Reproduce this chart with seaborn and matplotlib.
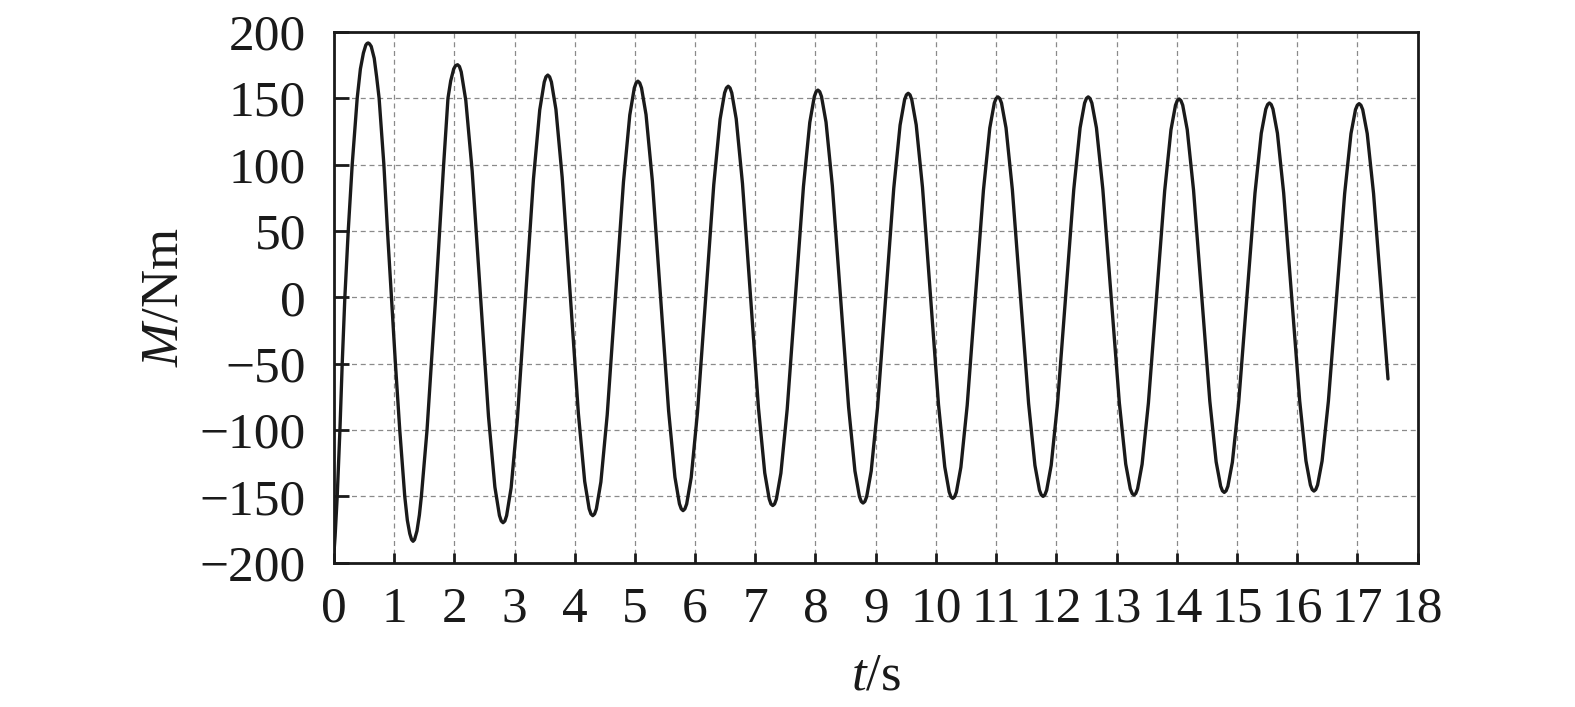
import matplotlib
matplotlib.use("Agg")
import matplotlib.pyplot as plt
import seaborn as sns
import pandas as pd

# time (s) and moment (Nm)
t_s = [
    0.000, 0.020, 0.055, 0.100, 0.138, 0.182, 0.238, 0.304, 0.387, 0.440, 0.490, 0.530, 0.550, 0.569,
    0.590, 0.620, 0.670, 0.710, 0.751, 0.830, 0.890, 0.956, 1.022, 1.094, 1.177, 1.220, 1.260, 1.290, 1.315,
    1.340, 1.380, 1.420, 1.453, 1.547, 1.619, 1.690, 1.757, 1.823, 1.895, 1.940, 1.990, 2.020, 2.055,
    2.085, 2.115, 2.191, 2.297, 2.433, 2.568, 2.674, 2.750, 2.780, 2.810,
    2.840, 2.869, 2.944, 3.048, 3.182, 3.315, 3.419, 3.494, 3.523, 3.553,
    3.583, 3.613, 3.688, 3.792, 3.927, 4.061, 4.166, 4.240, 4.270, 4.300,
    4.330, 4.360, 4.435, 4.540, 4.675, 4.810, 4.915, 4.990, 5.020, 5.050,
    5.080, 5.110, 5.185, 5.290, 5.425, 5.560, 5.665, 5.740, 5.770, 5.800,
    5.830, 5.860, 5.935, 6.040, 6.175, 6.310, 6.415, 6.490, 6.520, 6.550,
    6.580, 6.609, 6.683, 6.787, 6.920, 7.053, 7.157, 7.231, 7.260, 7.290,
    7.320, 7.350, 7.425, 7.530, 7.665, 7.800, 7.905, 7.980, 8.010, 8.040,
    8.070, 8.100, 8.175, 8.280, 8.415, 8.550, 8.655, 8.730, 8.760, 8.790,
    8.820, 8.850, 8.925, 9.030, 9.165, 9.300, 9.405, 9.480, 9.510, 9.540,
    9.570, 9.599, 9.673, 9.777, 9.910, 10.043, 10.147, 10.221, 10.250, 10.280,
    10.310, 10.340, 10.415, 10.520, 10.655, 10.790, 10.895, 10.970, 11.000, 11.030,
    11.060, 11.090, 11.165, 11.270, 11.405, 11.540, 11.645, 11.720, 11.750, 11.780,
    11.810, 11.840, 11.915, 12.020, 12.155, 12.290, 12.395, 12.470, 12.500, 12.530,
    12.560, 12.591, 12.667, 12.773, 12.910, 13.047, 13.153, 13.229, 13.260, 13.290,
    13.320, 13.350, 13.425, 13.530, 13.665, 13.800, 13.905, 13.980, 14.010, 14.040,
    14.070, 14.100, 14.175, 14.280, 14.415, 14.550, 14.655, 14.730, 14.760, 14.790,
    14.820, 14.850, 14.925, 15.030, 15.165, 15.300, 15.405, 15.480, 15.510, 15.540,
    15.570, 15.599, 15.673, 15.777, 15.910, 16.043, 16.147, 16.221, 16.250, 16.280,
    16.310, 16.340, 16.415, 16.520, 16.655, 16.790, 16.895, 16.970, 17.000, 17.030,
    17.060, 17.090, 17.165, 17.270, 17.405, 17.510,
]
moment_nm = [
    -193.0, -180.0, -150.0, -100.0, -50.0, 0.0, 50.0, 100.0, 150.0, 172.0, 184.0, 190.0, 191.2, 191.6,
    191.0, 189.0, 180.0, 166.0, 150.0, 100.0, 50.0, 0.0, -50.0, -100.0, -150.0, -168.0, -178.0, -182.5, -183.8,
    -182.5, -176.0, -164.0, -150.0, -100.0, -50.0, 0.0, 50.0, 100.0, 150.0, 163.0, 172.0, 174.5, 175.2,
    173.9, 169.8, 148.3, 95.1, 2.7, -89.7, -142.9, -164.4, -168.5, -169.8,
    -168.5, -164.5, -143.5, -91.5, -1.2, 89.1, 141.1, 162.1, 166.1, 167.4,
    166.1, 162.2, 141.6, 90.4, 1.5, -87.5, -138.7, -159.3, -163.2, -164.5,
    -163.2, -159.4, -139.1, -88.6, -0.9, 86.8, 137.3, 157.7, 161.5, 162.8,
    161.5, 157.7, 137.6, 87.7, 1.1, -85.6, -135.5, -155.6, -159.4, -160.7,
    -159.4, -155.7, -135.8, -86.5, -0.9, 84.8, 134.1, 154.0, 157.7, 159.0,
    157.7, 154.0, 134.4, 85.7, 1.1, -83.6, -132.3, -151.9, -155.7, -156.9,
    -155.7, -152.0, -132.5, -84.3, -0.4, 83.5, 131.7, 151.2, 154.9, 156.1,
    154.9, 151.2, 131.9, 83.9, 0.6, -82.8, -130.8, -150.1, -153.8, -155.0,
    -153.8, -150.2, -131.0, -83.4, -0.7, 82.1, 129.7, 148.9, 152.5, 153.7,
    152.5, 148.9, 129.9, 82.9, 1.1, -80.7, -127.7, -146.7, -150.3, -151.5,
    -150.3, -146.8, -128.0, -81.3, -0.3, 80.8, 127.5, 146.3, 149.8, 151.0,
    149.8, 146.3, 127.6, 81.1, 0.5, -80.1, -126.6, -145.3, -148.8, -150.0,
    -148.8, -145.3, -126.6, -80.1, 0.5, 81.1, 127.6, 146.3, 149.8, 151.0,
    149.8, 146.3, 127.6, 81.4, 1.0, -79.4, -125.6, -144.3, -147.8, -149.0,
    -147.8, -144.3, -125.8, -79.7, 0.2, 80.1, 126.2, 144.7, 148.2, 149.4,
    148.2, 144.7, 126.3, 80.6, 1.2, -78.2, -123.9, -142.3, -145.8, -147.0,
    -145.8, -142.4, -124.2, -78.9, -0.3, 78.3, 123.6, 141.8, 145.2, 146.4,
    145.2, 141.8, 123.6, 78.5, 0.2, -78.1, -123.2, -141.4, -144.8, -146.0,
    -144.8, -141.4, -123.3, -78.2, 0.0, 78.2, 123.3, 141.4, 144.7, 145.9,
    144.7, 141.4, 123.3, 78.2, 0.0, -61.5,
]

x_ticks = list(range(0, 19))
y_ticks = [-200, -150, -100, -50, 0, 50, 100, 150, 200]

sns.set_theme(style="white")
plt.rcParams["font.family"] = ["Liberation Serif", "DejaVu Serif"]
plt.rcParams["mathtext.fontset"] = "custom"
plt.rcParams["mathtext.rm"] = "Liberation Serif"
plt.rcParams["mathtext.it"] = "Liberation Serif:italic"

df = pd.DataFrame({"t": t_s, "M": moment_nm})

fig = plt.figure(figsize=(15.75, 7.07), dpi=100)
ax = fig.add_axes([0.212, 0.204, 0.688, 0.751])

sns.lineplot(data=df, x="t", y="M", ax=ax, color="#1a1a1a", linewidth=2.4,
             estimator=None, sort=False,
             solid_joinstyle="round", solid_capstyle="round")

ax.set_xlim(0, 18)
ax.set_ylim(-200, 200)
ax.set_xticks(x_ticks)
ax.set_yticks(y_ticks)
ax.set_xticklabels([str(v) for v in x_ticks])
ax.set_yticklabels([("\u2212" + str(-v)) if v < 0 else str(v) for v in y_ticks])

ax.grid(True, which="major", color="#8a8a8a", linestyle=(0, (4, 3)), linewidth=0.9)
ax.set_axisbelow(True)

for s in ax.spines.values():
    s.set_color("#1a1a1a")
    s.set_linewidth(2.0)

ax.tick_params(axis="y", direction="in", length=11, width=2.0, color="#1a1a1a",
               labelsize=37, pad=20, left=True, right=False, labelcolor="#1a1a1a")
ax.tick_params(axis="x", direction="in", length=7, width=2.0, color="#1a1a1a",
               labelsize=37, pad=17, bottom=True, top=False, labelcolor="#1a1a1a")

ax.set_xlabel(r"$\mathit{t}$/s", fontsize=38, color="#1a1a1a", labelpad=14)
ax.set_ylabel(r"$\mathit{M}$/Nm", fontsize=38, color="#1a1a1a", labelpad=8)

fig.savefig("out.png", dpi=100)
